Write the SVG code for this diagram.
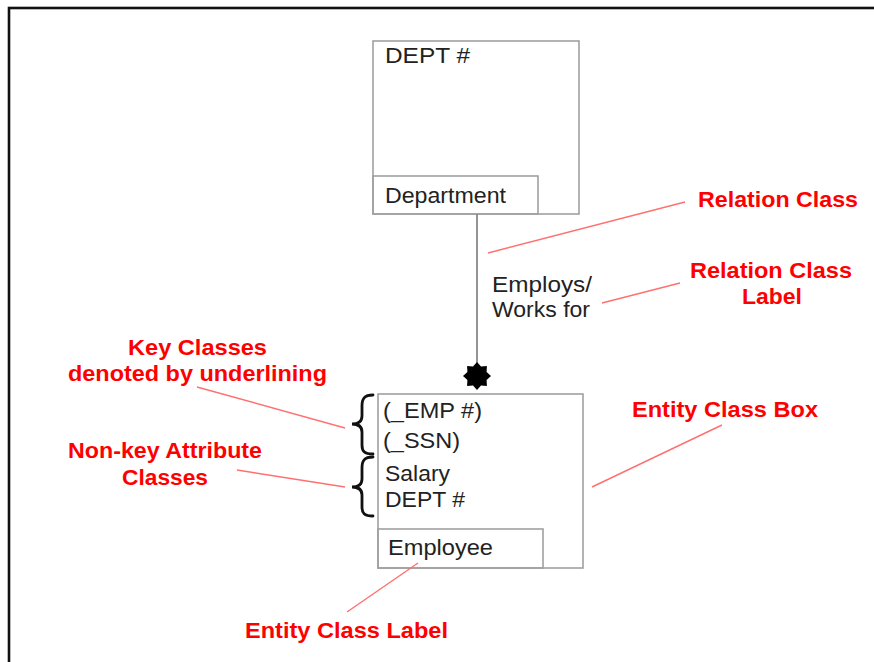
<svg xmlns="http://www.w3.org/2000/svg" width="874" height="662" viewBox="0 0 874 662">
<style>
.box{fill:none;stroke:#a0a0a0;stroke-width:1.6}
.t{font-family:"Liberation Sans",Arial,sans-serif;font-size:22px;fill:#222}
.r{font-family:"Liberation Sans",Arial,sans-serif;font-size:22px;font-weight:bold;fill:#ff0000}
.rl{stroke:#ff7070;stroke-width:1.4;fill:none}
.brace{fill:none;stroke:#111;stroke-width:2.8;stroke-linecap:round}
</style>
<rect x="0" y="0" width="874" height="662" fill="#fff"/>
<rect x="9" y="8" width="900" height="700" fill="none" stroke="#111" stroke-width="2.6"/>
<g id="department">
<rect class="box" x="373" y="41" width="206" height="173"/>
<rect class="box" x="373" y="176" width="165" height="38"/>
<text class="t" x="385" y="63" textLength="85" lengthAdjust="spacingAndGlyphs">DEPT #</text>
<text class="t" x="385" y="203" textLength="121" lengthAdjust="spacingAndGlyphs">Department</text>
</g>
<g id="employee">
<rect class="box" x="378" y="394" width="205" height="174"/>
<rect class="box" x="378" y="529" width="165" height="39"/>
<text class="t" x="383" y="418" textLength="99" lengthAdjust="spacingAndGlyphs">(_EMP #)</text>
<text class="t" x="383" y="448" textLength="77" lengthAdjust="spacingAndGlyphs">(_SSN)</text>
<text class="t" x="385" y="481" textLength="65" lengthAdjust="spacingAndGlyphs">Salary</text>
<text class="t" x="385" y="507" textLength="80" lengthAdjust="spacingAndGlyphs">DEPT #</text>
<text class="t" x="388" y="555" textLength="105" lengthAdjust="spacingAndGlyphs">Employee</text>
</g>
<g id="connectors">
<line x1="477" y1="214" x2="477" y2="370" stroke="#888" stroke-width="1.8"/>
<polygon fill="#000" points="477,362 481,366.4 486.9,366.1 486.6,372 491,376 486.6,380 486.9,385.9 481,385.6 477,390 473,385.6 467.1,385.9 467.4,380 463,376 467.4,372 467.1,366.1 473,366.4"/>
<text class="t" x="492" y="292" textLength="100" lengthAdjust="spacingAndGlyphs">Employs/</text>
<text class="t" x="492" y="317" textLength="98" lengthAdjust="spacingAndGlyphs">Works for</text>
</g>
<g id="braces">
<path class="brace" d="M373,395 C364,395 362,399 362,406 L362,416 C362,421 359,424 352,424 C359,424 362,427 362,432 L362,445 C362,451 364,454 373,454"/>
<path class="brace" d="M373,457 C364,457 362,461 362,468 L362,479 C362,484 359,487 352,487 C359,487 362,490 362,495 L362,507 C362,513 364,516 373,516"/>
</g>
<g id="annotations">
<line class="rl" x1="488" y1="253" x2="685" y2="202"/>
<line class="rl" x1="602" y1="303" x2="680" y2="283"/>
<line class="rl" x1="197" y1="387" x2="345" y2="428"/>
<line class="rl" x1="237" y1="470" x2="345" y2="487"/>
<line class="rl" x1="592" y1="487" x2="722" y2="425"/>
<line class="rl" x1="347" y1="612" x2="418" y2="563"/>
<text class="r" x="698" y="207" textLength="160" lengthAdjust="spacingAndGlyphs">Relation Class</text>
<text class="r" x="690" y="278" textLength="162" lengthAdjust="spacingAndGlyphs">Relation Class</text>
<text class="r" x="742" y="304" textLength="60" lengthAdjust="spacingAndGlyphs">Label</text>
<text class="r" x="128" y="355" textLength="139" lengthAdjust="spacingAndGlyphs">Key Classes</text>
<text class="r" x="68" y="381" textLength="259" lengthAdjust="spacingAndGlyphs">denoted by underlining</text>
<text class="r" x="68" y="458" textLength="194" lengthAdjust="spacingAndGlyphs">Non-key Attribute</text>
<text class="r" x="122" y="485" textLength="86" lengthAdjust="spacingAndGlyphs">Classes</text>
<text class="r" x="632" y="417" textLength="186" lengthAdjust="spacingAndGlyphs">Entity Class Box</text>
<text class="r" x="245" y="638" textLength="203" lengthAdjust="spacingAndGlyphs">Entity Class Label</text>
</g>
</svg>
